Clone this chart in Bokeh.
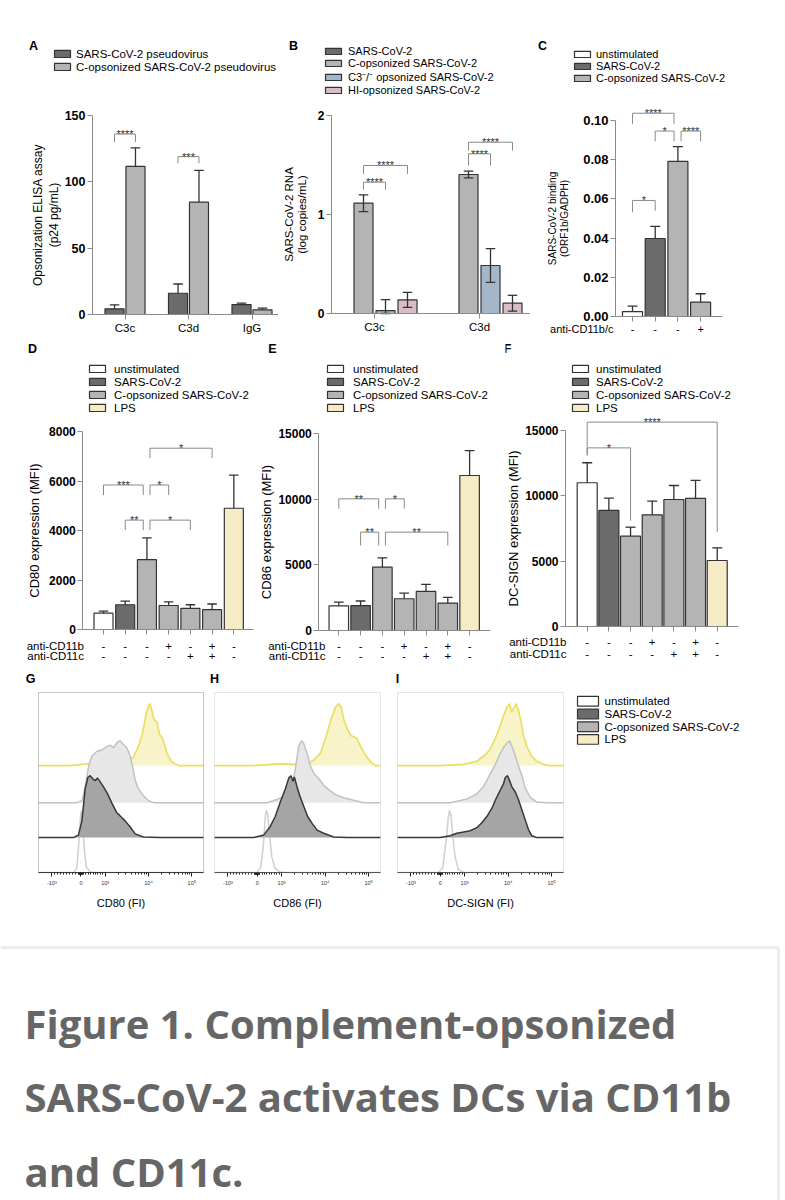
import math
from bokeh.plotting import figure
from bokeh.models import (Range1d, LinearAxis, FixedTicker, PrintfTickFormatter,
                          Legend, LegendItem, Label, BoxAnnotation)
from bokeh.layouts import row, column
from bokeh.embed import file_html
from bokeh.resources import INLINE
from bokeh.core.properties import value

FONT = "Liberation Sans"
WHITE, DARK, LIGHT = "#ffffff", "#6b6b6b", "#b4b4b4"
BLUE, PINK, CREAM = "#a4b7c9", "#d9bdc6", "#f5ecc5"
EDGE, AXISC, BRC = "#333333", "#8a8a8a", "#8a8a8a"
COLORS4 = [WHITE, DARK, LIGHT, CREAM]

# ----------------------------- data -----------------------------
# Panel A
A_groups = ["C3c", "C3d", "IgG"]
A_series = ["SARS-CoV-2 pseudovirus", "C-opsonized SARS-CoV-2 pseudovirus"]
A_pseudo = [4.3, 16.0, 7.5]
A_pseudo_err = [3.0, 7.0, 1.0]
A_copsn = [111.6, 84.7, 3.5]
A_copsn_err = [14.0, 24.0, 1.3]
A_sig = [(0, 0, 1, 136, 130, 130, "****"),
         (1, 0, 1, 119, 114, 114, "***")]

# Panel B
B_groups = ["C3c", "C3d"]
B_series = ["SARS-CoV-2", "C-opsonized SARS-CoV-2",
            "C3\u207b/\u207b opsonized SARS-CoV-2", "HI-opsonized SARS-CoV-2"]
B_sars = [0.0, 0.0]
B_copsn = [1.114, 1.404]
B_copsn_err = [0.085, 0.035]
B_c3 = [0.03, 0.485]
B_c3_err = [0.11, 0.17]
B_hi = [0.138, 0.104]
B_hi_err = [0.076, 0.08]
B_sig = [(0, 1, 2, 1.326, 1.249, 1.249, "****"),
         (0, 1, 3, 1.495, 1.41, 1.41, "****"),
         (1, 1, 2, 1.613, 1.495, 1.495, "****"),
         (1, 1, 3, 1.73, 1.646, 1.646, "****")]

# Panel C
C_legend = ["unstimulated", "SARS-CoV-2", "C-opsonized SARS-CoV-2"]
C_color_idx = [0, 1, 2, 2]
C_vals = [0.0025, 0.0398, 0.0791, 0.0073]
C_err = [0.0028, 0.0062, 0.0076, 0.0043]
C_anti = ["-", "-", "-", "+"]
C_sig = [(0, 1, 0.0592, 0.0532, 0.0540, "*"),
         (0, 2, 0.1037, 0.0983, 0.0983, "****"),
         (1, 2, 0.0946, 0.0894, 0.0894, "*"),
         (2, 3, 0.0946, 0.0894, 0.0894, "****")]

# Panels D-F
DEF_legend = ["unstimulated", "SARS-CoV-2", "C-opsonized SARS-CoV-2", "LPS"]
DEF_color_idx = [0, 1, 2, 2, 2, 2, 3]
anti_CD11b = ["-", "-", "-", "+", "-", "+", "-"]
anti_CD11c = ["-", "-", "-", "-", "+", "+", "-"]
D_vals = [660, 1000, 2820, 970, 850, 800, 4900]
D_err = [80, 150, 880, 150, 150, 230, 1340]
D_sig = [(2, 5, 7324, 6919, 6919, "*"), (0, 2, 5838, 5432, 5432, "***"),
         (2, 3, 5838, 5432, 5432, "*"), (1, 2, 4419, 4014, 4014, "**"),
         (2, 4, 4419, 4014, 4014, "*")]
E_vals = [1880, 1900, 4830, 2420, 2980, 2090, 11820]
E_err = [280, 350, 710, 430, 530, 430, 1900]
E_sig = [(0, 2, 10040, 9280, 9280, "**"), (2, 3, 10040, 9280, 9280, "*"),
         (1, 2, 7500, 6480, 6480, "**"), (2, 5, 7500, 6480, 6480, "**")]
F_vals = [11000, 8880, 6910, 8550, 9720, 9800, 5050]
F_err = [1530, 940, 690, 1050, 1070, 1380, 970]
F_sig = [(0, 6, 15640, 13100, 7220, "****"), (0, 2, 13670, 13100, 8100, "*")]

# Panels G-I: flow histograms (x = display channel 0-1000, y = % of mode)
BIEX_TICKS = [81, 257, 404, 667, 929]
BIEX_LABELS = ["-10\u00b3", "0", "10\u00b3", "10\u2074", "10\u2075"]

G_lps_x = [0, 192, 293, 414, 535, 576, 606, 632, 652, 667, 677, 687, 701, 717, 733, 753, 778, 808, 848, 1000]
G_lps_y = [0, 0, 3, 2, 6, 14, 31, 54, 83, 97, 100, 89, 74, 71, 51, 43, 20, 6, 0, 0]
G_cop_x = [0, 232, 263, 283, 303, 323, 354, 384, 410, 434, 455, 479, 495, 515, 535, 556, 572, 586, 606, 636, 667, 697, 1000]
G_cop_y = [0, 0, 3, 25, 58, 75, 83, 85, 90, 93, 89, 98, 100, 94, 89, 75, 56, 36, 22, 11, 3, 0, 0]
G_sars_x = [0, 212, 242, 263, 283, 299, 313, 329, 343, 358, 374, 394, 418, 444, 475, 495, 525, 556, 586, 636, 737, 1000]
G_sars_y = [0, 0, 4, 27, 79, 97, 100, 95, 92, 96, 90, 82, 71, 56, 40, 35, 27, 17, 6, 1, 0, 0]
G_uns_x = [0, 212, 232, 242, 253, 259, 267, 277, 289, 313, 354, 1000]
G_uns_y = [0, 0, 6, 39, 85, 100, 85, 39, 9, 1, 0, 0]

H_lps_x = [0, 235, 396, 477, 557, 598, 638, 668, 698, 728, 748, 763, 779, 799, 819, 839, 859, 879, 909, 940, 970, 1000]
H_lps_y = [0, 0, 3, 2, 3, 9, 20, 43, 71, 94, 100, 94, 74, 60, 49, 46, 43, 31, 17, 6, 0, 0]
H_cop_x = [0, 316, 376, 437, 467, 487, 507, 523, 537, 557, 577, 598, 628, 658, 688, 728, 779, 839, 899, 1000]
H_cop_y = [0, 0, 5, 13, 28, 54, 91, 100, 96, 80, 60, 47, 39, 28, 21, 13, 8, 4, 0, 0]
H_sars_x = [0, 235, 296, 336, 366, 396, 427, 447, 461, 473, 481, 497, 513, 537, 561, 588, 618, 658, 718, 799, 1000]
H_sars_y = [0, 0, 4, 18, 34, 57, 79, 96, 100, 91, 98, 82, 68, 51, 34, 23, 12, 7, 1, 0, 0]
H_uns_x = [0, 256, 280, 296, 306, 312, 320, 332, 346, 366, 396, 437, 1000]
H_uns_y = [0, 0, 9, 49, 90, 100, 95, 59, 24, 6, 1, 0, 0]

I_lps_x = [0, 257, 398, 478, 518, 558, 588, 618, 639, 659, 675, 687, 699, 715, 729, 743, 759, 779, 809, 839, 879, 920, 1000]
I_lps_y = [0, 0, 2, 7, 15, 26, 43, 64, 81, 94, 100, 86, 92, 100, 89, 73, 48, 31, 15, 7, 2, 0, 0]
I_cop_x = [0, 317, 418, 478, 518, 538, 558, 588, 618, 639, 659, 675, 689, 709, 729, 749, 769, 799, 839, 900, 1000]
I_cop_y = [0, 0, 6, 14, 26, 36, 46, 61, 79, 89, 96, 100, 91, 76, 59, 44, 24, 9, 1, 0, 0]
I_sars_x = [0, 257, 317, 357, 398, 438, 478, 508, 538, 568, 594, 618, 639, 649, 663, 675, 689, 709, 729, 749, 769, 789, 809, 839, 1000]
I_sars_y = [0, 0, 3, 7, 9, 11, 16, 24, 34, 47, 63, 76, 87, 97, 100, 92, 82, 74, 61, 45, 29, 13, 3, 0, 0]
I_uns_x = [0, 247, 273, 293, 307, 313, 321, 333, 347, 367, 398, 1000]
I_uns_y = [0, 0, 8, 51, 91, 100, 94, 61, 25, 5, 0, 0]

CAPTION = ["Figure 1. Complement-opsonized",
           "SARS-CoV-2 activates DCs via CD11b",
           "and CD11c."]


# ----------------------------- helpers -----------------------------
def make_frame(fx0, fy0, W, H, px0, dpx, y0px, kpx):
    def xd(px):
        return (px - px0) / dpx

    def yd(py):
        return (y0px - py) / kpx
    p = figure(width=W, height=H,
               x_range=Range1d(xd(fx0), xd(fx0 + W)),
               y_range=Range1d(yd(fy0 + H), yd(fy0)),
               x_axis_location=None, y_axis_location=None, title_location=None,
               toolbar_location=None, output_backend="svg",
               min_border_left=0, min_border_right=0, min_border_top=0, min_border_bottom=0)
    p.grid.visible = False
    p.outline_line_color = None
    p.background_fill_color = "white"
    p.border_fill_color = "white"
    return p, xd, yd


def style_axis(ax, tick_size, bold=True):
    ax.axis_line_color = AXISC
    ax.axis_line_width = 1
    ax.major_tick_line_color = AXISC
    ax.major_tick_line_width = 1
    ax.major_tick_out = 5
    ax.major_tick_in = 0
    ax.minor_tick_line_color = AXISC
    ax.minor_tick_out = 5
    ax.minor_tick_in = 0
    ax.major_label_text_font = FONT
    ax.major_label_text_font_size = tick_size
    ax.major_label_text_font_style = "bold" if bold else "normal"
    ax.major_label_text_color = "black"
    ax.major_label_standoff = 2
    ax.axis_label_text_font = FONT
    ax.axis_label_text_font_style = "normal"
    ax.axis_label_text_color = "black"


def bar_axes(p, xd, yaxis_px, xend_px, yticks, fmt, ytitle, title_size, title_standoff,
             tick_size, xticks, xlabels):
    ya = LinearAxis(fixed_location=xd(yaxis_px), bounds=(yticks[0], yticks[-1]),
                    ticker=FixedTicker(ticks=yticks), formatter=PrintfTickFormatter(format=fmt),
                    axis_label=ytitle)
    style_axis(ya, tick_size)
    ya.axis_label_text_font_size = title_size
    ya.axis_label_standoff = title_standoff
    ya.axis_label_text_line_height = 1.1
    p.add_layout(ya, "left")
    if xlabels:
        xa = LinearAxis(fixed_location=0, bounds=(xd(yaxis_px), xd(xend_px)),
                        ticker=FixedTicker(ticks=xticks))
        xa_labels = {t: l for t, l in zip(xticks, xlabels)}
    else:
        # unlabeled bar positions: drawn as minor ticks (no tick labels)
        xa = LinearAxis(fixed_location=0, bounds=(xd(yaxis_px), xd(xend_px)),
                        ticker=FixedTicker(ticks=[], minor_ticks=xticks))
        xa_labels = None
    style_axis(xa, "11.5px", bold=False)
    if xa_labels:
        xa.major_label_overrides = xa_labels
    p.add_layout(xa, "below")


def errbars(p, xs, tops, errs, capw, both=False):
    hi = [t + e for t, e in zip(tops, errs)]
    lo = [max(t - e, 0.0) for t, e in zip(tops, errs)] if both else list(tops)
    p.segment(x0=xs, y0=lo, x1=xs, y1=hi, line_color=EDGE, line_width=1.3)
    p.segment(x0=[x - capw / 2 for x in xs], y0=hi, x1=[x + capw / 2 for x in xs], y1=hi,
              line_color=EDGE, line_width=1.3)
    if both:
        p.segment(x0=[x - capw / 2 for x in xs], y0=lo, x1=[x + capw / 2 for x in xs], y1=lo,
                  line_color=EDGE, line_width=1.3)


def draw_brackets(p, items, size="11px"):
    x0s, y0s, x1s, y1s, tx, ty, tt = [], [], [], [], [], [], []
    for (xa, xb, y, yl, yr, lab) in items:
        x0s += [xa, xa, xb]
        y0s += [yl, y, yr]
        x1s += [xa, xb, xb]
        y1s += [y, y, y]
        tx.append((xa + xb) / 2)
        ty.append(y)
        tt.append(lab)
    p.segment(x0=x0s, y0=y0s, x1=x1s, y1=y1s, line_color=BRC, line_width=1)
    p.text(x=tx, y=ty, text=tt, text_align="center", text_baseline="middle",
           text_font=value(FONT), text_font_size=size, text_color="#333333")


def hub_brackets(sig, hub):
    out = []
    for (i1, i2, y, yl, yr, lab) in sig:
        xa = i1 + (0.14 if i1 == hub else 0.0)
        xb = i2 - (0.17 if i2 == hub else 0.0)
        out.append((xa, xb, y, yl, yr, lab))
    return out


def add_legend(p, items, fx0, fy0, H, box_left, top, row_h, standoff, font_size="11.5px", gh=9):
    n = len(items)
    height = n * row_h
    leg = Legend(items=items, location=(box_left - fx0, (fy0 + H) - (top + height)),
                 glyph_width=20, glyph_height=gh, label_height=row_h, label_width=10,
                 spacing=0, padding=0, margin=0, label_standoff=standoff,
                 label_text_font=FONT, label_text_font_size=font_size, label_text_color="black",
                 border_line_color=None, background_fill_alpha=0)
    p.add_layout(leg)
    return leg


def letter(p, x, y, text):
    p.add_layout(Label(x=x, y=y, text=text, text_font=FONT, text_font_style="bold",
                       text_font_size="12.5px", text_align="center", text_baseline="middle",
                       text_color="black"))


def txt(p, xs, ys, texts, align="center", size="11.5px"):
    p.text(x=xs, y=ys, text=texts, text_align=align, text_baseline="middle",
           text_font=value(FONT), text_font_size=size, text_color="black")


# ----------------------------- Panel A -----------------------------
pA, xdA, ydA = make_frame(0, 0, 278, 335, 124.5, 63.5, 314, 199 / 150)
offA, wA = [-0.165, 0.165], 0.30
gA = list(range(len(A_groups)))
rA = []
for s, (vals, errs, col) in enumerate([(A_pseudo, A_pseudo_err, DARK), (A_copsn, A_copsn_err, LIGHT)]):
    xs = [g + offA[s] for g in gA]
    rA.append(pA.vbar(x=xs, top=vals, width=wA, bottom=0, fill_color=col, line_color=EDGE, line_width=1.2))
    errbars(pA, xs, vals, errs, wA * 0.5)
bar_axes(pA, xdA, 92, 278, [0, 50, 100, 150], "%d", "Opsonization ELISA assay\n(p24 pg/mL)",
         "12px", 1, "12.5px", gA, A_groups)
draw_brackets(pA, [(g + offA[s1], g + offA[s2], y, yl, yr, lab) for (g, s1, s2, y, yl, yr, lab) in A_sig])
add_legend(pA, [LegendItem(label=A_series[i], renderers=[rA[i]]) for i in range(2)],
           0, 0, 335, 52, 47, 13, 4, gh=9)
letter(pA, xdA(33), ydA(45), "A")

# ----------------------------- Panel B -----------------------------
pB, xdB, ydB = make_frame(278, 0, 252, 335, 374, 105, 313, 99)
pitchB, wB = 22 / 105, 19 / 105
offB = [(-1.5 + k) * pitchB for k in range(4)]
gB = list(range(len(B_groups)))
rB = []
for s, (vals, errs, col) in enumerate([(B_sars, None, DARK), (B_copsn, B_copsn_err, LIGHT),
                                       (B_c3, B_c3_err, BLUE), (B_hi, B_hi_err, PINK)]):
    xs = [g + offB[s] for g in gB]
    rB.append(pB.vbar(x=xs, top=vals, width=wB, bottom=0, fill_color=col, line_color=EDGE, line_width=1.2))
    if errs is not None:
        errbars(pB, xs, vals, errs, wB * 0.5, both=True)
bar_axes(pB, xdB, 331, 530, [0, 1, 2], "%d", "SARS-CoV-2 RNA\n(log copies/mL)",
         "11.5px", 7, "12px", gB, B_groups)
draw_brackets(pB, [(g + offB[s1], g + offB[s2], y, yl, yr, lab) for (g, s1, s2, y, yl, yr, lab) in B_sig])
add_legend(pB, [LegendItem(label=B_series[i], renderers=[rB[i]]) for i in range(4)],
           278, 0, 335, 323, 48, 12, 5, font_size="11px", gh=8)
letter(pB, xdB(293), ydB(45), "B")

# ----------------------------- Panel C -----------------------------
pC, xdC, ydC = make_frame(530, 0, 255, 335, 632, 22.7, 316, 1960)
xsC = list(range(len(C_vals)))
wC = 20 / 22.7
rC = pC.vbar(x=xsC, top=C_vals, width=wC, bottom=0, fill_color=[COLORS4[i] for i in C_color_idx],
             line_color=EDGE, line_width=1.2)
errbars(pC, xsC, C_vals, C_err, wC * 0.5)
bar_axes(pC, xdC, 615, 722, [0, 0.02, 0.04, 0.06, 0.08, 0.10], "%.2f",
         "SARS-CoV-2 binding\n(ORF1b/GADPH)", "10px", 10, "13px", xsC, None)
draw_brackets(pC, hub_brackets(C_sig, 2))
txt(pC, [xdC(613)], [ydC(328.3)], ["anti-CD11b/c"], align="right", size="11px")
txt(pC, xsC, [ydC(328.3)] * len(xsC), C_anti, size="11px")
add_legend(pC, [LegendItem(label=C_legend[i], renderers=[rC], index=i) for i in range(3)],
           530, 0, 335, 572, 48, 12, 4, font_size="11px", gh=8)
letter(pC, xdC(542), ydC(45), "C")


# ----------------------------- Panels D-F -----------------------------
def def_panel(fx0, W, px0, dpx, y0px, kpx, yaxis_px, xend_px, vals, errs, yticks, ytitle,
              title_standoff, sig, hub, label_right, row_ys, leg_left, leg_standoff, let, let_c, bar_w_px):
    p, xd, yd = make_frame(fx0, 335, W, 330, px0, dpx, y0px, kpx)
    xs = list(range(len(vals)))
    w = bar_w_px / dpx
    r = p.vbar(x=xs, top=vals, width=w, bottom=0, fill_color=[COLORS4[i] for i in DEF_color_idx],
               line_color=EDGE, line_width=1.2)
    errbars(p, xs, vals, errs, w * 0.5)
    bar_axes(p, xd, yaxis_px, xend_px, yticks, "%d", ytitle, "13px", title_standoff, "12px", xs, None)
    draw_brackets(p, hub_brackets(sig, hub))
    txt(p, [xd(label_right)] * 2, [yd(row_ys[0]), yd(row_ys[1])], ["anti-CD11b", "anti-CD11c"], align="right")
    txt(p, xs + xs, [yd(row_ys[0])] * len(xs) + [yd(row_ys[1])] * len(xs), anti_CD11b + anti_CD11c)
    items = [LegendItem(label=DEF_legend[k], renderers=[r], index=idx) for k, idx in enumerate([0, 1, 2, 6])]
    add_legend(p, items, fx0, 335, 330, leg_left, 362, 13, leg_standoff, gh=9)
    letter(p, xd(let_c[0]), yd(let_c[1]), let)
    return p


pD = def_panel(0, 258, 103, 21.72, 629, 198 / 8000, 82.3, 253, D_vals, D_err,
               [0, 2000, 4000, 6000, 8000], "CD80 expression (MFI)", 4, D_sig, 2,
               83.5, (645, 655), 87, 7, "D", (32, 348), 19)
pE = def_panel(258, 247, 338.3, 21.8, 630, (630 - 433.3) / 15000, 318.3, 490, E_vals, E_err,
               [0, 5000, 10000, 15000], "CD86 expression (MFI)", 1, E_sig, 2,
               325, (645, 655), 325, 8, "E", (272, 348), 19.5)
pF = def_panel(505, 280, 586.7, 21.67, 626, 196 / 15000, 565, 738.3, F_vals, F_err,
               [0, 5000, 10000, 15000], "DC-SIGN expression (MFI)", 1, F_sig, None,
               566, (641, 653), 570, 6, "F", (507, 348), 20)

# ----------------------------- Panels G-I -----------------------------
LANES = {"uns": 0.0, "sars": 0.97, "cop": 1.94, "lps": 2.97}
HSCALE = 1.72
HSTYLE = {"uns": ("#ffffff", "#cfcfcf"), "lps": ("#f8f3c8", "#ebdf62"),
          "cop": ("#e7e7e7", "#c2c2c2"), "sars": ("#a5a5a5", "#383838")}
BIEX_MINOR = ([257 - 17.6 * k for k in range(1, 10)] + [257 + 14.7 * k for k in range(1, 10)]
              + [257 - 1.9 * k for k in range(1, 8)] + [257 + 1.6 * k for k in range(1, 8)]
              + [404 + 263 * math.log10(k) for k in range(2, 10)]
              + [667 + 263 * math.log10(k) for k in range(2, 10)])


def hist_fig(fx0, W, box_left, box_w, outline, xlabel, hists, let, let_c):
    p, xd, yd = make_frame(fx0, 665, W, 275, box_left, box_w / 1000, 872, 36)
    for key in ["uns", "lps", "cop", "sars"]:
        xs, pct = hists[key]
        base = LANES[key]
        ys = [base + v / 100 * HSCALE for v in pct]
        fill, line = HSTYLE[key]
        p.varea(x=xs, y1=[base] * len(xs), y2=ys, fill_color=fill, fill_alpha=1)
        p.line(xs, ys, line_color=line, line_width=1.7 if key == "lps" else 1.5)
    p.add_layout(BoxAnnotation(left=0, right=1000, bottom=0, top=5, fill_color=None,
                               line_color=outline, line_width=1))
    ax = LinearAxis(fixed_location=0, bounds=(0, 1000),
                    ticker=FixedTicker(ticks=BIEX_TICKS, minor_ticks=BIEX_MINOR))
    ax.major_label_overrides = dict(zip(BIEX_TICKS, BIEX_LABELS))
    ax.axis_line_color = "#333333"
    ax.major_tick_line_color = "#222222"
    ax.minor_tick_line_color = "#222222"
    ax.major_tick_out = 4
    ax.major_tick_in = 0
    ax.minor_tick_out = 2
    ax.minor_tick_in = 0
    ax.major_label_text_font = FONT
    ax.major_label_text_font_size = "5.5px"
    ax.major_label_text_color = "#333333"
    ax.major_label_standoff = 3
    ax.axis_label = xlabel
    ax.axis_label_text_font = FONT
    ax.axis_label_text_font_style = "normal"
    ax.axis_label_text_font_size = "11px"
    ax.axis_label_text_color = "black"
    ax.axis_label_standoff = 8
    p.add_layout(ax, "below")
    letter(p, xd(let_c[0]), yd(let_c[1]), let)
    return p


pG = hist_fig(0, 208, 38, 165, "#4a4a4a", "CD80 (FI)",
              {"uns": (G_uns_x, G_uns_y), "sars": (G_sars_x, G_sars_y),
               "cop": (G_cop_x, G_cop_y), "lps": (G_lps_x, G_lps_y)}, "G", (30, 678))
pH = hist_fig(208, 182, 214, 166, "#a8a8a8", "CD86 (FI)",
              {"uns": (H_uns_x, H_uns_y), "sars": (H_sars_x, H_sars_y),
               "cop": (H_cop_x, H_cop_y), "lps": (H_lps_x, H_lps_y)}, "H", (214, 678))
pI = hist_fig(390, 180, 397, 166, "#a8a8a8", "DC-SIGN (FI)",
              {"uns": (I_uns_x, I_uns_y), "sars": (I_sars_x, I_sars_y),
               "cop": (I_cop_x, I_cop_y), "lps": (I_lps_x, I_lps_y)}, "I", (397, 678))

# legend key for G-I (boxes + labels, laid out in pixel units of this small panel)
pL, xdL, ydL = make_frame(570, 665, 215, 275, 570, 1, 940, 1)
rows_mid = [ydL(700.8 + 12.7 * k) for k in range(len(DEF_legend))]
pL.rect(x=[xdL(587.5)] * len(DEF_legend), y=rows_mid, width=21, height=9.7,
        fill_color=COLORS4, line_color=EDGE, line_width=1.2)
txt(pL, [xdL(604)] * len(DEF_legend), rows_mid, DEF_legend, align="left")

# ----------------------------- caption -----------------------------
pCap = figure(width=785, height=260, x_range=Range1d(0, 785), y_range=Range1d(260, 0),
              x_axis_location=None, y_axis_location=None, title_location=None,
              toolbar_location=None, output_backend="svg",
              min_border_left=0, min_border_right=0, min_border_top=0, min_border_bottom=0)
pCap.grid.visible = False
pCap.outline_line_color = None
pCap.background_fill_color = "white"
pCap.segment(x0=[0, 778], y0=[7, 7], x1=[778, 778], y1=[7, 260], line_color="#ececec", line_width=3)
pCap.text(x=[24] * 3, y=[82.7, 156, 231], text=CAPTION, text_font=value("Open Sans"),
          text_font_style="bold", text_font_size="40px", text_color="#666666",
          text_baseline="middle", text_align="left")

layout = column(row(pA, pB, pC), row(pD, pE, pF), row(pG, pH, pI, pL), pCap)
open("out.html", "w").write(file_html(layout, INLINE))
